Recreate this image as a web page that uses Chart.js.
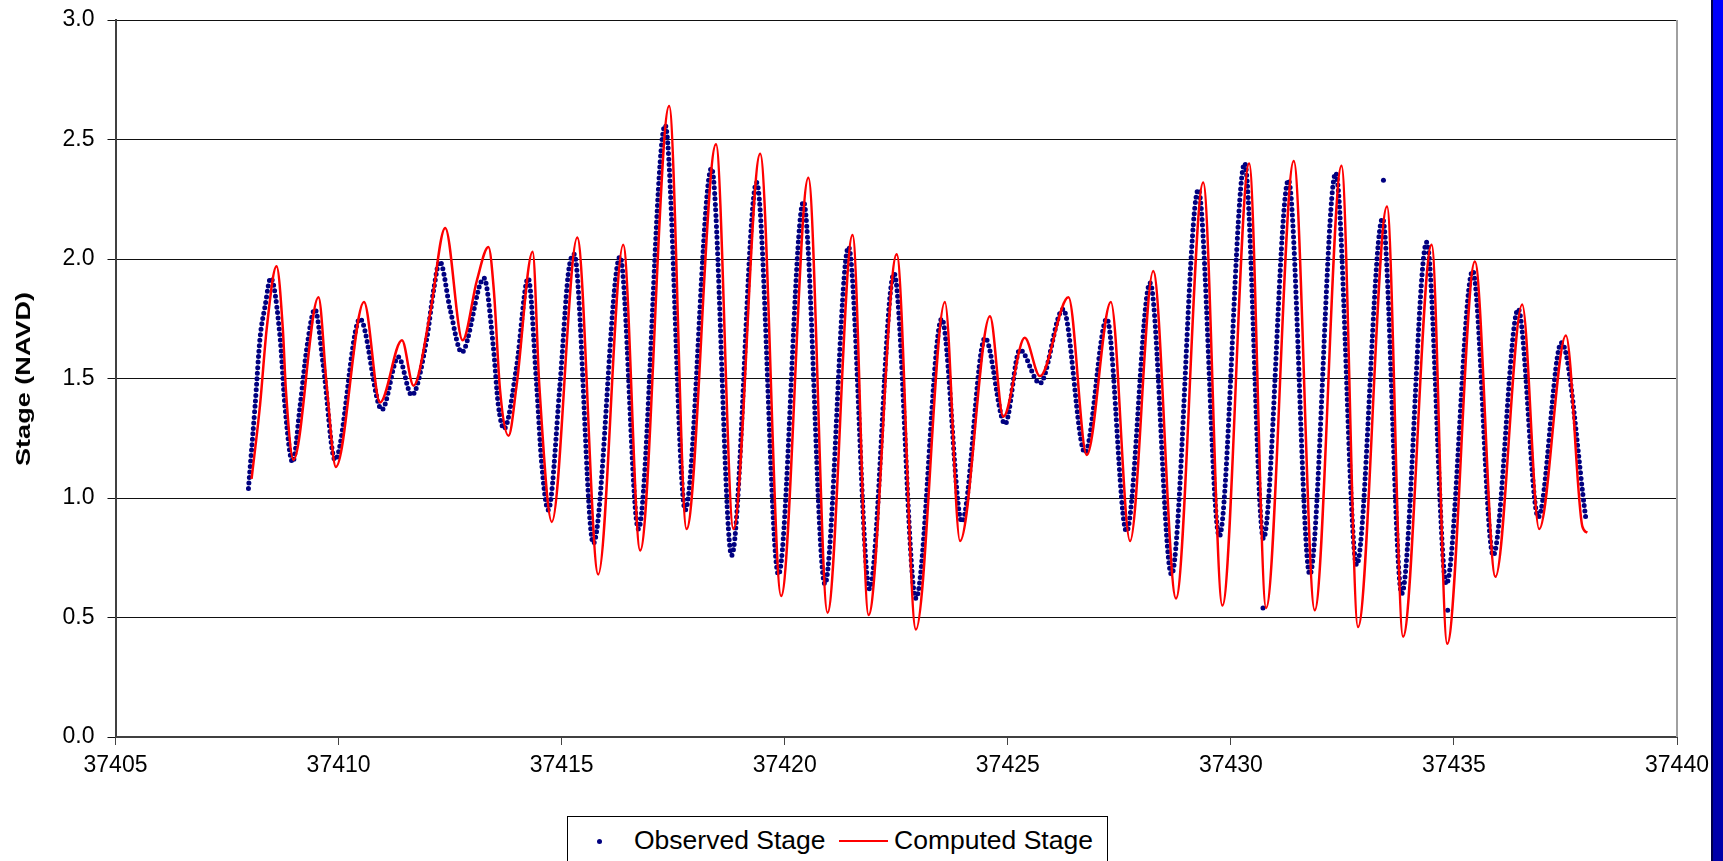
<!DOCTYPE html>
<html>
<head>
<meta charset="utf-8">
<title>Observed vs Computed Stage</title>
<script src="https://cdn.jsdelivr.net/npm/chart.js@4.4.1/dist/chart.umd.min.js"></script>
<style>
    html, body { margin: 0; padding: 0; background: #fff; }
    #wrap {
        position: relative;
        width: 1723px;
        height: 861px;
        overflow: hidden;
        font-family: "Liberation Sans", Arial, sans-serif;
    }
    #stageChart { position: absolute; left: 0; top: 0; }
    .y-title {
        position: absolute;
        left: 23px; top: 379px;
        font-size: 21px;
        font-weight: bold;
        line-height: 24px;
        white-space: nowrap;
        color: #000;
        transform: translate(-50%, -50%) rotate(-90deg) scaleX(1.29);
    }
    .legend-box {
        position: absolute;
        left: 567px;
        top: 816px;
        width: 541px;
        height: 70px;
        border: 1px solid #000;
        box-sizing: border-box;
        background: #fff;
    }
    .legend-box span { position: absolute; }
    .legend-dot {
        left: 29px; top: 22px;
        width: 5px; height: 5px;
        border-radius: 50%;
        background: #000080;
    }
    .legend-line {
        left: 271px; top: 23px;
        width: 49px; height: 2px;
        background: #ff0000;
    }
    .legend-text {
        top: 7px;
        font-size: 26.5px;
        line-height: 32px;
        color: #000;
        white-space: nowrap;
    }
    /* franja azul del borde derecho de la captura */
    .edge-strip {
        position: absolute;
        left: 1711px; top: 0;
        width: 12px; height: 861px;
        box-sizing: border-box;
        border-left: 2px solid #00004a;
        background: linear-gradient(to bottom, #0000ff, #0000a8);
    }
</style>
</head>
<body>
<div id="wrap">
    <canvas id="stageChart" width="1723" height="861"></canvas>
    <div class="y-title">Stage (NAVD)</div>
    <div class="legend-box">
        <span class="legend-dot"></span>
        <span class="legend-text" style="left:66px">Observed Stage</span>
        <span class="legend-line"></span>
        <span class="legend-text" style="left:326px">Computed Stage</span>
    </div>
    <div class="edge-strip"></div>
</div>
<script>
// valores (día juliano / cota)
const obsDay = [
    37407.98, 37408.13, 37408.24, 37408.35, 37408.48, 37408.69, 37408.80, 37408.97,
    37409.14, 37409.29, 37409.47, 37409.66, 37409.92, 37410.48, 37410.97, 37411.34,
    37411.64, 37411.98, 37412.13, 37412.27, 37412.50, 37412.76, 37413.26, 37413.47,
    37413.58, 37413.71, 37413.99, 37414.25, 37414.44, 37414.55, 37414.70, 37414.96,
    37415.15, 37415.28, 37415.71, 37416.31, 37416.72, 37417.32, 37417.77, 37418.36,
    37418.81, 37419.37, 37419.86, 37420.42, 37420.90, 37421.43, 37421.90, 37422.45,
    37422.94, 37423.52, 37423.97, 37424.49, 37424.94, 37425.27, 37425.72, 37426.24,
    37426.73, 37427.22, 37427.66, 37428.19, 37428.67, 37429.27, 37429.74, 37430.31,
    37430.73, 37431.29, 37431.77, 37432.35, 37432.82, 37433.40, 37433.83, 37434.39,
    37434.83, 37435.42, 37435.88, 37436.44, 37436.89, 37437.41, 37437.96
];
const obsStage = [
    1.04, 1.39, 1.67, 1.80, 1.92, 1.67, 1.38, 1.15,
    1.39, 1.63, 1.79, 1.55, 1.16, 1.75, 1.37, 1.59,
    1.43, 1.67, 1.87, 1.99, 1.79, 1.61, 1.92, 1.63,
    1.39, 1.29, 1.55, 1.92, 1.47, 1.15, 0.95, 1.47,
    1.94, 2.02, 0.81, 2.01, 0.87, 2.56, 0.95, 2.38,
    0.76, 2.32, 0.68, 2.24, 0.64, 2.05, 0.62, 1.94,
    0.58, 1.75, 0.90, 1.67, 1.31, 1.62, 1.48, 1.79,
    1.19, 1.75, 0.86, 1.90, 0.68, 2.29, 0.84, 2.40,
    0.83, 2.33, 0.68, 2.36, 0.72, 2.17, 0.60, 2.07,
    0.64, 1.95, 0.76, 1.79, 0.92, 1.65, 0.91
];
// puntos observados sueltos, fuera de la curva
const obsOddDay = [37433.42, 37430.72, 37434.86];
const obsOddStage = [2.33, 0.54, 0.53];

const compDay = [
    37408.05, 37408.24, 37408.39, 37408.61, 37408.75, 37408.82, 37408.99, 37409.55,
    37409.73, 37409.94, 37410.57, 37410.93, 37411.42, 37411.68, 37412.05, 37412.39,
    37412.78, 37413.10, 37413.36, 37413.48, 37413.62, 37413.81, 37413.99, 37414.35,
    37414.50, 37414.78, 37415.35, 37415.82, 37416.38, 37416.76, 37417.41, 37417.80,
    37418.46, 37418.85, 37419.45, 37419.92, 37420.53, 37420.96, 37421.52, 37421.88,
    37422.51, 37422.94, 37423.59, 37423.93, 37424.60, 37424.90, 37425.38, 37425.72,
    37426.36, 37426.77, 37427.31, 37427.74, 37428.26, 37428.77, 37429.38, 37429.81,
    37430.41, 37430.79, 37431.41, 37431.88, 37432.48, 37432.85, 37433.50, 37433.86,
    37434.50, 37434.85, 37435.47, 37435.93, 37436.53, 37436.91, 37437.51, 37437.88,
    37437.99
];
const compStage = [
    1.08, 1.39, 1.71, 1.97, 1.71, 1.45, 1.16, 1.84,
    1.48, 1.13, 1.82, 1.40, 1.66, 1.47, 1.77, 2.13,
    1.66, 1.91, 2.05, 1.87, 1.45, 1.26, 1.47, 2.03,
    1.47, 0.90, 2.09, 0.68, 2.06, 0.78, 2.64, 0.87,
    2.48, 0.87, 2.44, 0.59, 2.34, 0.52, 2.10, 0.51,
    2.02, 0.45, 1.82, 0.82, 1.76, 1.34, 1.67, 1.51,
    1.84, 1.18, 1.82, 0.82, 1.95, 0.58, 2.32, 0.55,
    2.40, 0.54, 2.41, 0.53, 2.39, 0.46, 2.22, 0.42,
    2.06, 0.39, 1.99, 0.67, 1.81, 0.87, 1.68, 0.88,
    0.855
];

const xTicks = [37405, 37410, 37415, 37420, 37425, 37430, 37435, 37440];
const yTicks = [0, 0.5, 1.0, 1.5, 2.0, 2.5, 3.0];

const toPoints = (xs, ys) => xs.map((x, i) => ({ x, y: ys[i] }));
const tickFont = { family: 'Liberation Sans, Arial, sans-serif', size: 23 };

// borde derecho del área de trazado
const rightFrame = {
    id: 'rightFrame',
    afterDraw(chart) {
        const { ctx, chartArea } = chart;
        ctx.save();
        ctx.strokeStyle = '#a0a0a0';
        ctx.lineWidth = 2;
        ctx.beginPath();
        ctx.moveTo(chartArea.right, chartArea.top);
        ctx.lineTo(chartArea.right, chartArea.bottom);
        ctx.stroke();
        ctx.restore();
    }
};

const ctx = document.getElementById('stageChart').getContext('2d');

new Chart(ctx, {
    type: 'scatter',
    data: {
        datasets: [
            {
                label: 'Observed Stage',
                data: toPoints(obsDay, obsStage),
                showLine: true,
                borderColor: '#000080',
                backgroundColor: '#000080',
                borderWidth: 5,
                borderDash: [0, 5.5],
                borderCapStyle: 'round',
                cubicInterpolationMode: 'monotone',
                pointRadius: 0,
                order: 3
            },
            {
                label: 'Observed Stage (sueltos)',
                data: toPoints(obsOddDay, obsOddStage),
                showLine: false,
                backgroundColor: '#000080',
                borderColor: '#000080',
                pointRadius: 2.5,
                borderWidth: 0,
                order: 2
            },
            {
                label: 'Computed Stage',
                data: toPoints(compDay, compStage),
                showLine: true,
                borderColor: '#ff0000',
                backgroundColor: '#ff0000',
                borderWidth: 2.5,
                cubicInterpolationMode: 'monotone',
                pointRadius: 0,
                order: 1
            }
        ]
    },
    options: {
        responsive: false,
        animation: false,
        devicePixelRatio: 1,
        layout: { padding: { top: 20, right: 46, left: 0, bottom: 0 } },
        plugins: {
            legend: { display: false },
            tooltip: { enabled: false }
        },
        scales: {
            x: {
                type: 'linear',
                min: 37405,
                max: 37440,
                afterBuildTicks: s => { s.ticks = xTicks.map(v => ({ value: v })); },
                afterFit: s => { s.height = 124; },
                grid: { drawOnChartArea: false, drawTicks: true, tickLength: 8, color: '#444' },
                border: { color: '#404040', width: 2 },
                ticks: {
                    color: '#000',
                    padding: 7,
                    maxRotation: 0,
                    font: tickFont,
                    callback: v => String(v)
                }
            },
            y: {
                min: 0,
                max: 3,
                afterBuildTicks: s => { s.ticks = yTicks.map(v => ({ value: v })); },
                afterFit: s => {
                    s.width = 115.5;
                    s.paddingTop = 0;
                    s.paddingBottom = 0;
                },
                grid: { color: '#111', lineWidth: 1, drawTicks: true, tickLength: 8 },
                border: { color: '#404040', width: 2 },
                ticks: {
                    color: '#000',
                    padding: 13,
                    font: tickFont,
                    callback: v => Number(v).toFixed(1)
                }
            }
        }
    },
    plugins: [rightFrame]
});
</script>
</body>
</html>
